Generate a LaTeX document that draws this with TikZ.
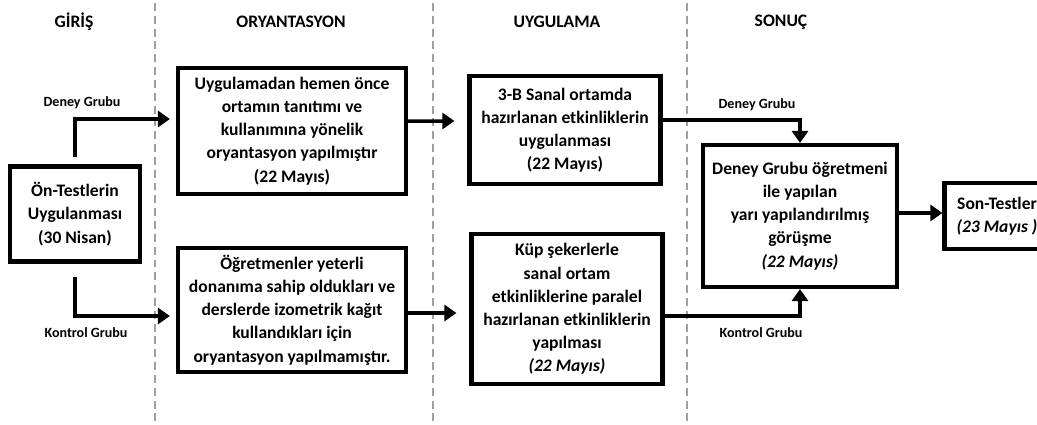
\documentclass[tikz,border=0pt]{standalone}
\usepackage{fontspec}
\setmainfont{Carlito}
\usetikzlibrary{arrows.meta}

\begin{document}
\begin{tikzpicture}[x=0.02cm,y=-0.02cm,
    box/.style={draw,line width=2.4pt,align=center,inner sep=2pt,
      font=\bfseries\fontsize{10}{13.2}\selectfont},
    head/.style={font=\bfseries\fontsize{10}{12}\selectfont},
    grp/.style={font=\bfseries\fontsize{8}{9}\selectfont},
    sep/.style={gray!75,line width=1.6pt,dash pattern=on 4.5pt off 2.8pt},
    arr/.style={line width=2pt,-{Triangle[length=0.24cm,width=0.32cm]}}]
  \useasboundingbox (0,0) rectangle (1037,424);

  % column separators
  \draw[sep] (155,3) -- (155,424);
  \draw[sep] (433,3) -- (433,424);
  \draw[sep] (687,3) -- (687,424);

  \node[head] (hgiris) at (74,22) {GİRİŞ};
  \node[head] (hory) at (291,22) {ORYANTASYON};
  \node[head] (huyg) at (557,22) {UYGULAMA};
  \node[head] (hson) at (781,22) {SONUÇ};

  % boxes
  \node[box,minimum width=2.6cm,minimum height=1.9cm] (ontest) at (75,214)
    {Ön-Testlerin\\ Uygulanması\\ (30 Nisan)};
  \node[box,minimum width=4.56cm,minimum height=2.52cm] (orient1) at (292,131)
    {Uygulamadan hemen önce\\ ortamın tanıtımı ve\\ kullanımına yönelik\\
     oryantasyon yapılmıştır\\ (22 Mayıs)};
  \node[box,minimum width=4.56cm,minimum height=2.48cm] (orient2) at (292,310)
    {Öğretmenler yeterli\\ donanıma sahip oldukları ve\\ derslerde izometrik kağıt\\
     kullandıkları için\\ oryantasyon yapılmamıştır.};
  \node[box,minimum width=3.82cm,minimum height=2.16cm] (uyg1) at (565,130)
    {3-B Sanal ortamda\\ hazırlanan etkinliklerin\\ uygulanması\\ (22 Mayıs)};
  \node[box,minimum width=3.82cm,minimum height=3cm] (uyg2) at (567,309)
    {Küp şekerlerle\\ sanal ortam\\ etkinliklerine paralel\\ hazırlanan etkinliklerin\\
     yapılması\\ \textit{(22 Mayıs)}};
  \node[box,minimum width=3.88cm,minimum height=2.84cm] (sonuc) at (800,216)
    {Deney Grubu öğretmeni\\ ile yapılan\\ yarı yapılandırılmış\\ görüşme\\
     \textit{(22 Mayıs)}};
  \node[box,minimum width=2.1cm,minimum height=1.32cm] (sontest) at (997,216)
    {Son-Testler\\ \textit{(23 Mayıs )}};

  % group labels
  \node[grp] (ldeney) at (82,103) {Deney Grubu};
  \node[grp] (lkontrol) at (86,333) {Kontrol Grubu};
  \node[grp] (rdeney) at (757,105) {Deney Grubu};
  \node[grp] (rkontrol) at (761,333) {Kontrol Grubu};

  % connectors
  \draw[arr,shorten <=0.14cm,shorten >=0.12cm] (ontest.north) |- ([yshift=0.24cm]orient1.west);
  \draw[arr,shorten <=0.26cm,shorten >=0.12cm] (ontest.south) |- ([yshift=-0.12cm]orient2.west);
  \draw[arr,shorten >=0.26cm] ([yshift=0.2cm]orient1.east) -- ([yshift=0.18cm]uyg1.west);
  \draw[arr,shorten >=0.26cm] ([yshift=-0.06cm]orient2.east) -- ([yshift=-0.08cm]uyg2.west);
  \draw[arr] ([yshift=0.2cm]uyg1.east) -| (sonuc.north);
  \draw[arr] ([yshift=-0.14cm]uyg2.east) -| (sonuc.south);
  \draw[arr] ([yshift=0.06cm]sonuc.east) -- ([yshift=0.06cm]sontest.west);
\end{tikzpicture}
\end{document}
